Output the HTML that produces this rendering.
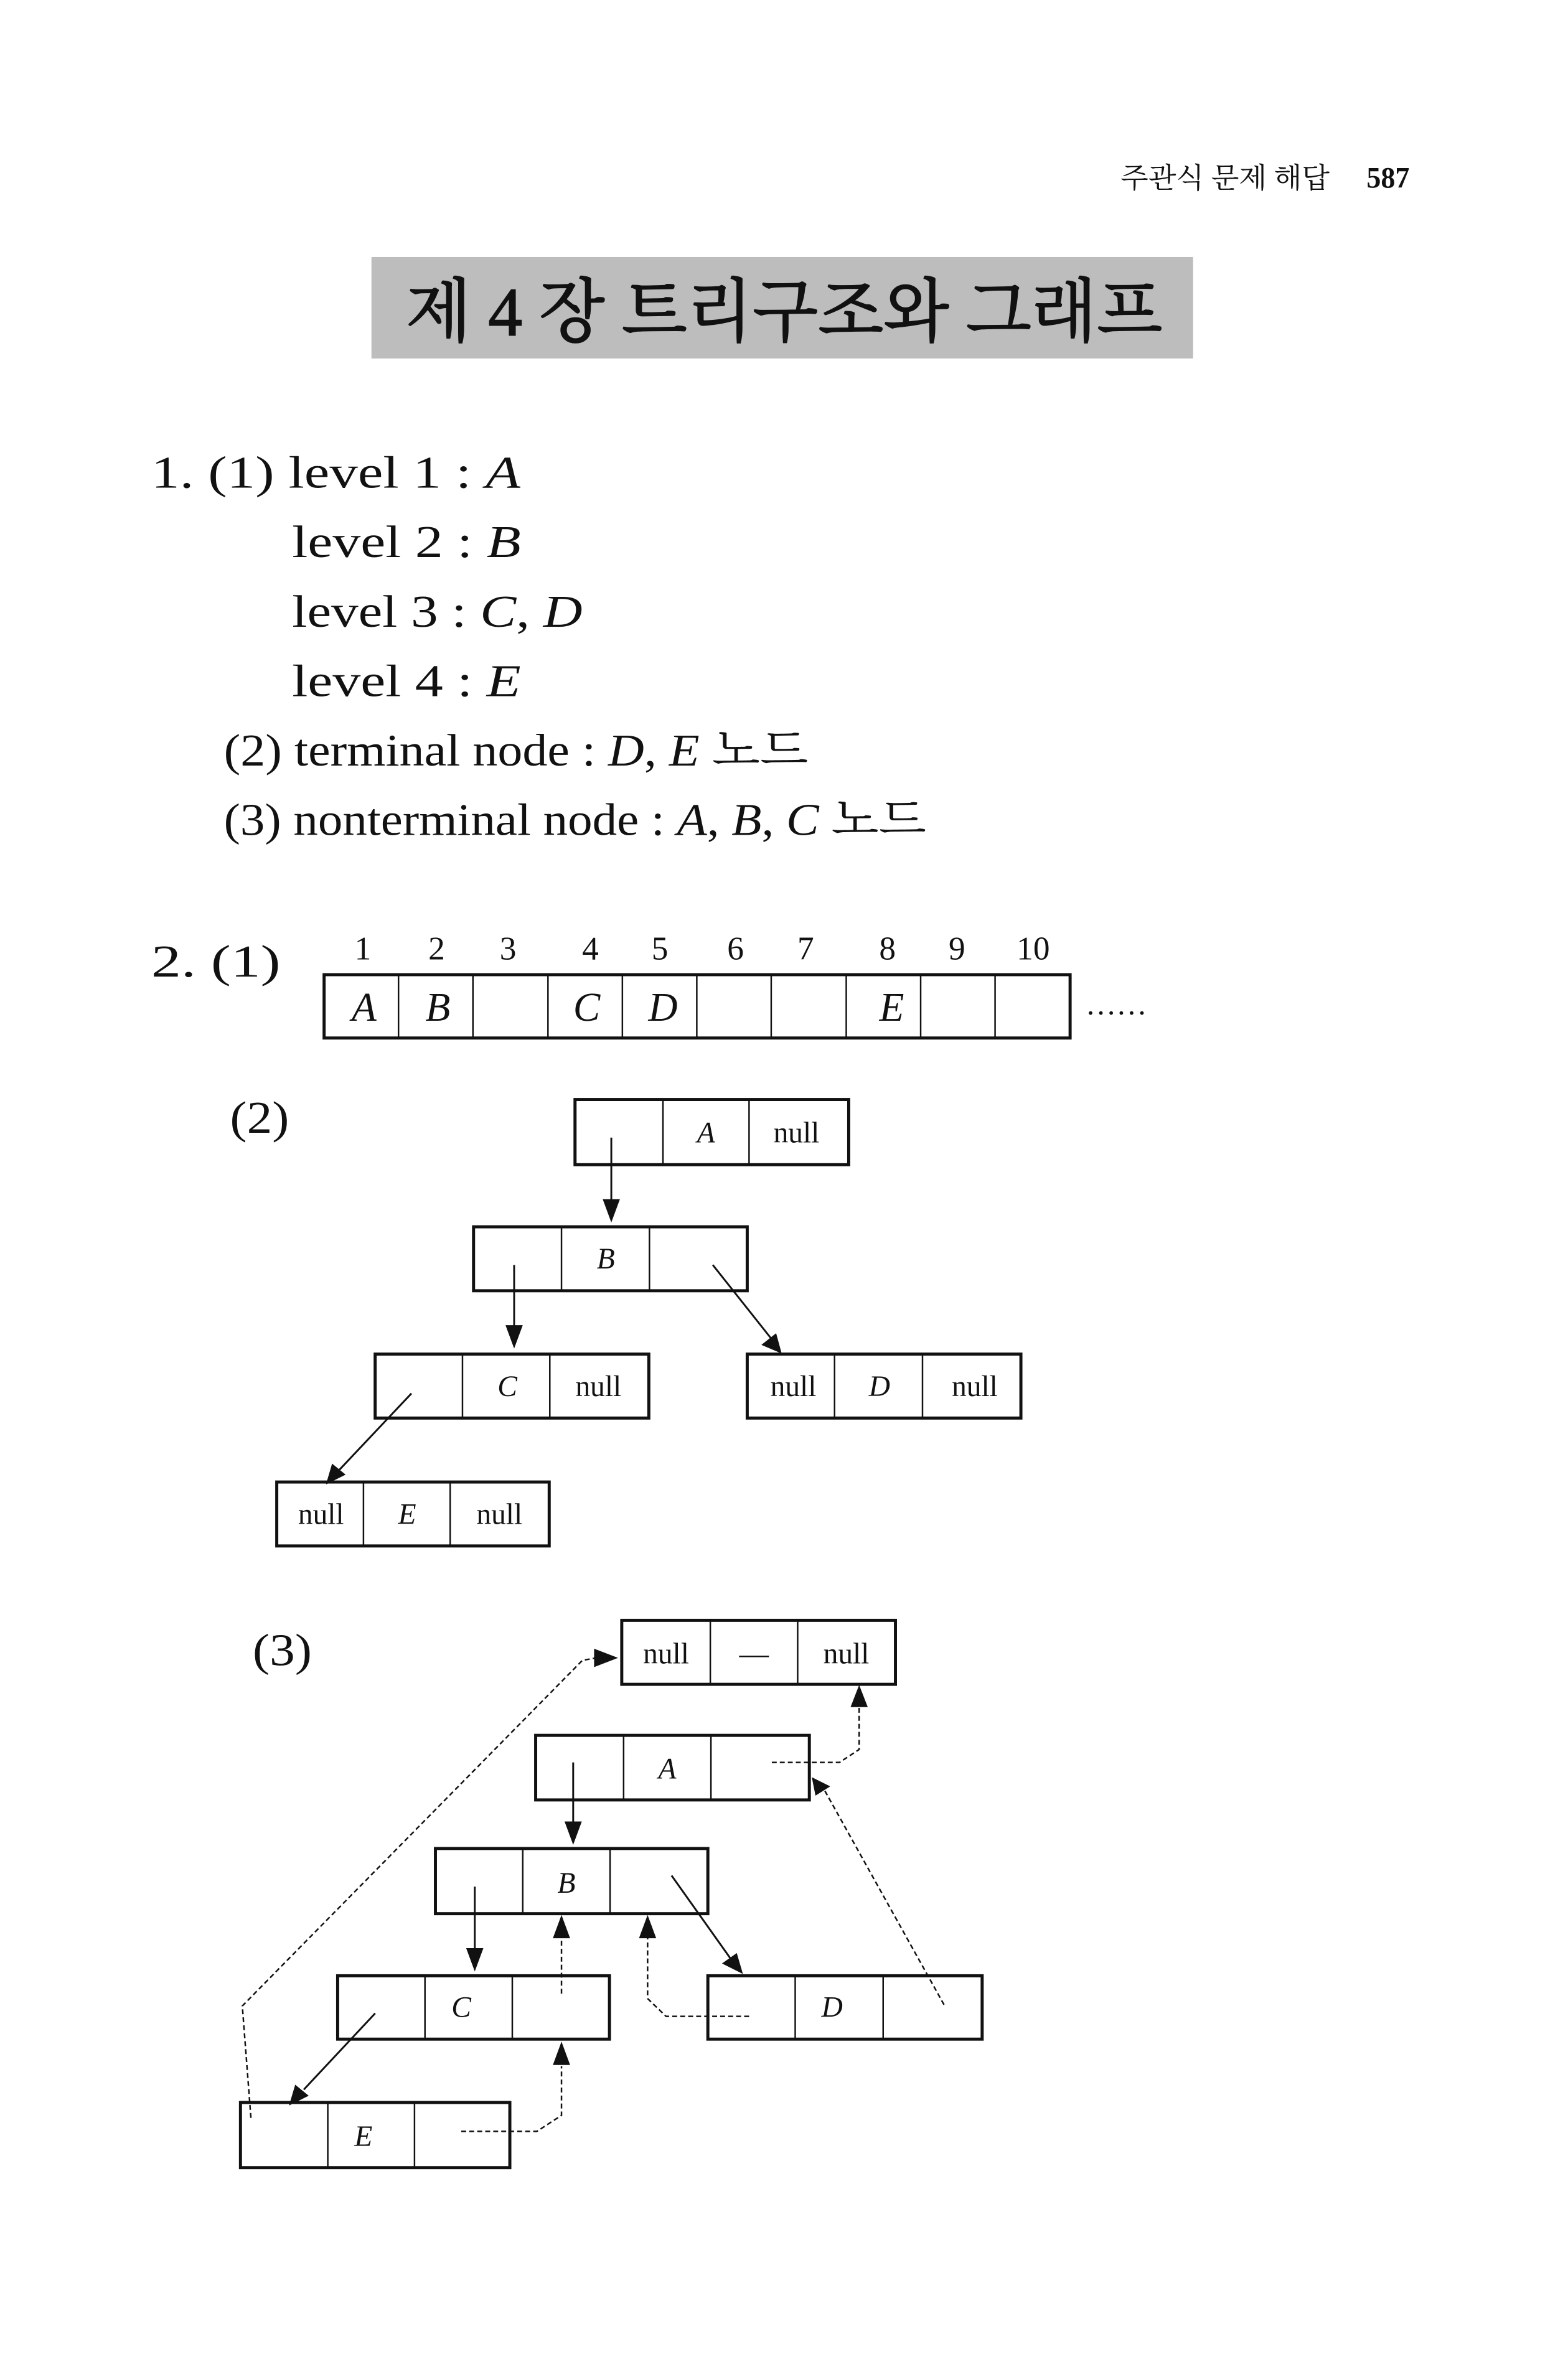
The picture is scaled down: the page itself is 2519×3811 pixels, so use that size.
<!DOCTYPE html>
<html><head><meta charset="utf-8"><style>
html,body{margin:0;padding:0;background:#fff;}
svg{display:block;}
text{font-family:"Liberation Serif","Noto Serif CJK SC",serif;fill:#111;}
.i{font-style:italic;}
</style></head><body>
<svg width="2519" height="3811" viewBox="0 0 2519 3811" xmlns="http://www.w3.org/2000/svg">
<rect width="2519" height="3811" fill="#fff"/>
<g transform="scale(0.988)">
<text x="1822" y="305" font-size="46" textLength="340" lengthAdjust="spacingAndGlyphs">주관식 문제 해답</text>
<text x="2222" y="305" font-size="48" font-weight="bold" textLength="70" lengthAdjust="spacingAndGlyphs">587</text>
<rect x="604" y="418" width="1336" height="165" fill="#bdbdbd"/>
<text x="660" y="545" font-size="112" textLength="1230" lengthAdjust="spacingAndGlyphs" stroke="#111" stroke-width="2">제 4 장  트리구조와 그래프</text>
<g font-size="74">
<text x="246" y="793" textLength="600" lengthAdjust="spacingAndGlyphs">1.  (1) level 1 :  <tspan class="i">A</tspan></text>
<text x="475" y="906" textLength="372" lengthAdjust="spacingAndGlyphs">level 2 :  <tspan class="i">B</tspan></text>
<text x="475" y="1019" textLength="472" lengthAdjust="spacingAndGlyphs">level 3 :  <tspan class="i">C</tspan>, <tspan class="i">D</tspan></text>
<text x="475" y="1132" textLength="372" lengthAdjust="spacingAndGlyphs">level 4 :  <tspan class="i">E</tspan></text>
<text x="364" y="1245" textLength="950" lengthAdjust="spacingAndGlyphs">(2) terminal node :  <tspan class="i">D</tspan>, <tspan class="i">E</tspan> 노드</text>
<text x="364" y="1358" textLength="1142" lengthAdjust="spacingAndGlyphs">(3) nonterminal node :  <tspan class="i">A</tspan>, <tspan class="i">B</tspan>, <tspan class="i">C</tspan> 노드</text>
<text x="246" y="1588" textLength="210" lengthAdjust="spacingAndGlyphs">2.  (1)</text>
<text x="374" y="1842" textLength="96" lengthAdjust="spacingAndGlyphs">(2)</text>
<text x="411" y="2708" textLength="96" lengthAdjust="spacingAndGlyphs">(3)</text>
</g>
<g font-size="54" text-anchor="middle">
<text x="590" y="1560">1</text><text x="710" y="1560">2</text><text x="826" y="1560">3</text>
<text x="960" y="1560">4</text><text x="1073" y="1560">5</text><text x="1196" y="1560">6</text>
<text x="1310" y="1560">7</text><text x="1443" y="1560">8</text><text x="1556" y="1560">9</text><text x="1680" y="1560">10</text>
</g>
<g stroke="#111" fill="none">
<rect x="527" y="1585" width="1213" height="103" stroke-width="5"/>
<path d="M648 1585V1688M769 1585V1688M891 1585V1688M1012 1585V1688M1133 1585V1688M1254 1585V1688M1376 1585V1688M1497 1585V1688M1618 1585V1688" stroke-width="2.5"/>
</g>
<g font-size="66" text-anchor="middle">
<text x="592" y="1660" class="i">A</text><text x="712" y="1660" class="i">B</text>
<text x="954" y="1660" class="i">C</text><text x="1078" y="1660" class="i">D</text><text x="1450" y="1660" class="i">E</text>
</g>
<text x="1765" y="1650" font-size="50">……</text>

<g stroke="#111" fill="none">
<rect x="935" y="1788" width="445" height="106" stroke-width="5"/>
<path d="M1078 1788V1894M1218 1788V1894" stroke-width="2.5"/>
<rect x="770" y="1995" width="445" height="104" stroke-width="5"/>
<path d="M913 1995V2099M1056 1995V2099" stroke-width="2.5"/>
<rect x="610" y="2202" width="445" height="104" stroke-width="5"/>
<path d="M752 2202V2306M894 2202V2306" stroke-width="2.5"/>
<rect x="1215" y="2202" width="445" height="104" stroke-width="5"/>
<path d="M1357 2202V2306M1500 2202V2306" stroke-width="2.5"/>
<rect x="450" y="2410" width="443" height="104" stroke-width="5"/>
<path d="M591 2410V2514M732 2410V2514" stroke-width="2.5"/>
<path d="M994 1850V1955M836 2057V2160M1159 2057L1255 2178M669 2266L552 2390" stroke-width="3"/>
</g>
<g fill="#111">
<polygon points="980,1950 1008,1950 994,1988"/>
<polygon points="822,2155 850,2155 836,2193"/>
<polygon points="1238,2187 1262,2168 1271,2201"/>
<polygon points="540,2380 562,2398 530,2414"/>
</g>
<g font-size="48" text-anchor="middle">
<text x="1148" y="1858" class="i">A</text><text x="1295" y="1858">null</text>
<text x="985" y="2063" class="i">B</text>
<text x="825" y="2270" class="i">C</text><text x="973" y="2270">null</text>
<text x="1290" y="2270">null</text><text x="1430" y="2270" class="i">D</text><text x="1585" y="2270">null</text>
<text x="522" y="2478">null</text><text x="662" y="2478" class="i">E</text><text x="812" y="2478">null</text>
</g>

<g stroke="#111" fill="none">
<rect x="1011" y="2635" width="445" height="104" stroke-width="5"/>
<path d="M1155 2635V2739M1297 2635V2739" stroke-width="2.5"/>
<rect x="871" y="2822" width="445" height="105" stroke-width="5"/>
<path d="M1014 2822V2927M1156 2822V2927" stroke-width="2.5"/>
<rect x="708" y="3006" width="443" height="106" stroke-width="5"/>
<path d="M850 3006V3112M992 3006V3112" stroke-width="2.5"/>
<rect x="549" y="3213" width="442" height="103" stroke-width="5"/>
<path d="M691 3213V3316M833 3213V3316" stroke-width="2.5"/>
<rect x="1151" y="3213" width="446" height="103" stroke-width="5"/>
<path d="M1293 3213V3316M1436 3213V3316" stroke-width="2.5"/>
<rect x="391" y="3419" width="438" height="106" stroke-width="5"/>
<path d="M533 3419V3525M674 3419V3525" stroke-width="2.5"/>
<path d="M932 2866V2965M772 3068V3170M1092 3050L1190 3188M610 3274L494 3398" stroke-width="3"/>
<g stroke-width="2.5" stroke-dasharray="8,5">
<path d="M408 3444L394 3262L947 2700L970 2696"/>
<path d="M750 3466H873L913 3440V3360"/>
<path d="M913 3242V3150"/>
<path d="M1218 3279H1083L1053 3250V3150"/>
<path d="M1535 3260L1340 2910"/>
<path d="M1255 2866H1365L1397 2845V2775"/>
</g>
</g>
<g fill="#111">
<polygon points="918,2962 946,2962 932,3000"/>
<polygon points="758,3168 786,3168 772,3206"/>
<polygon points="1174,3193 1198,3176 1208,3210"/>
<polygon points="480,3390 502,3408 470,3424"/>
<polygon points="966,2681 966,2711 1005,2696"/>
<polygon points="899,3358 927,3358 913,3320"/>
<polygon points="899,3152 927,3152 913,3114"/>
<polygon points="1039,3152 1067,3152 1053,3114"/>
<polygon points="1326,2920 1350,2905 1320,2890"/>
<polygon points="1383,2776 1411,2776 1397,2740"/>
</g>
<g font-size="48" text-anchor="middle">
<text x="1083" y="2705">null</text><text x="1226" y="2705">—</text><text x="1376" y="2705">null</text>
<text x="1085" y="2892" class="i">A</text>
<text x="921" y="3078" class="i">B</text>
<text x="750" y="3280" class="i">C</text>
<text x="1353" y="3280" class="i">D</text>
<text x="591" y="3490" class="i">E</text>
</g>
</g>
</svg>
</body></html>
